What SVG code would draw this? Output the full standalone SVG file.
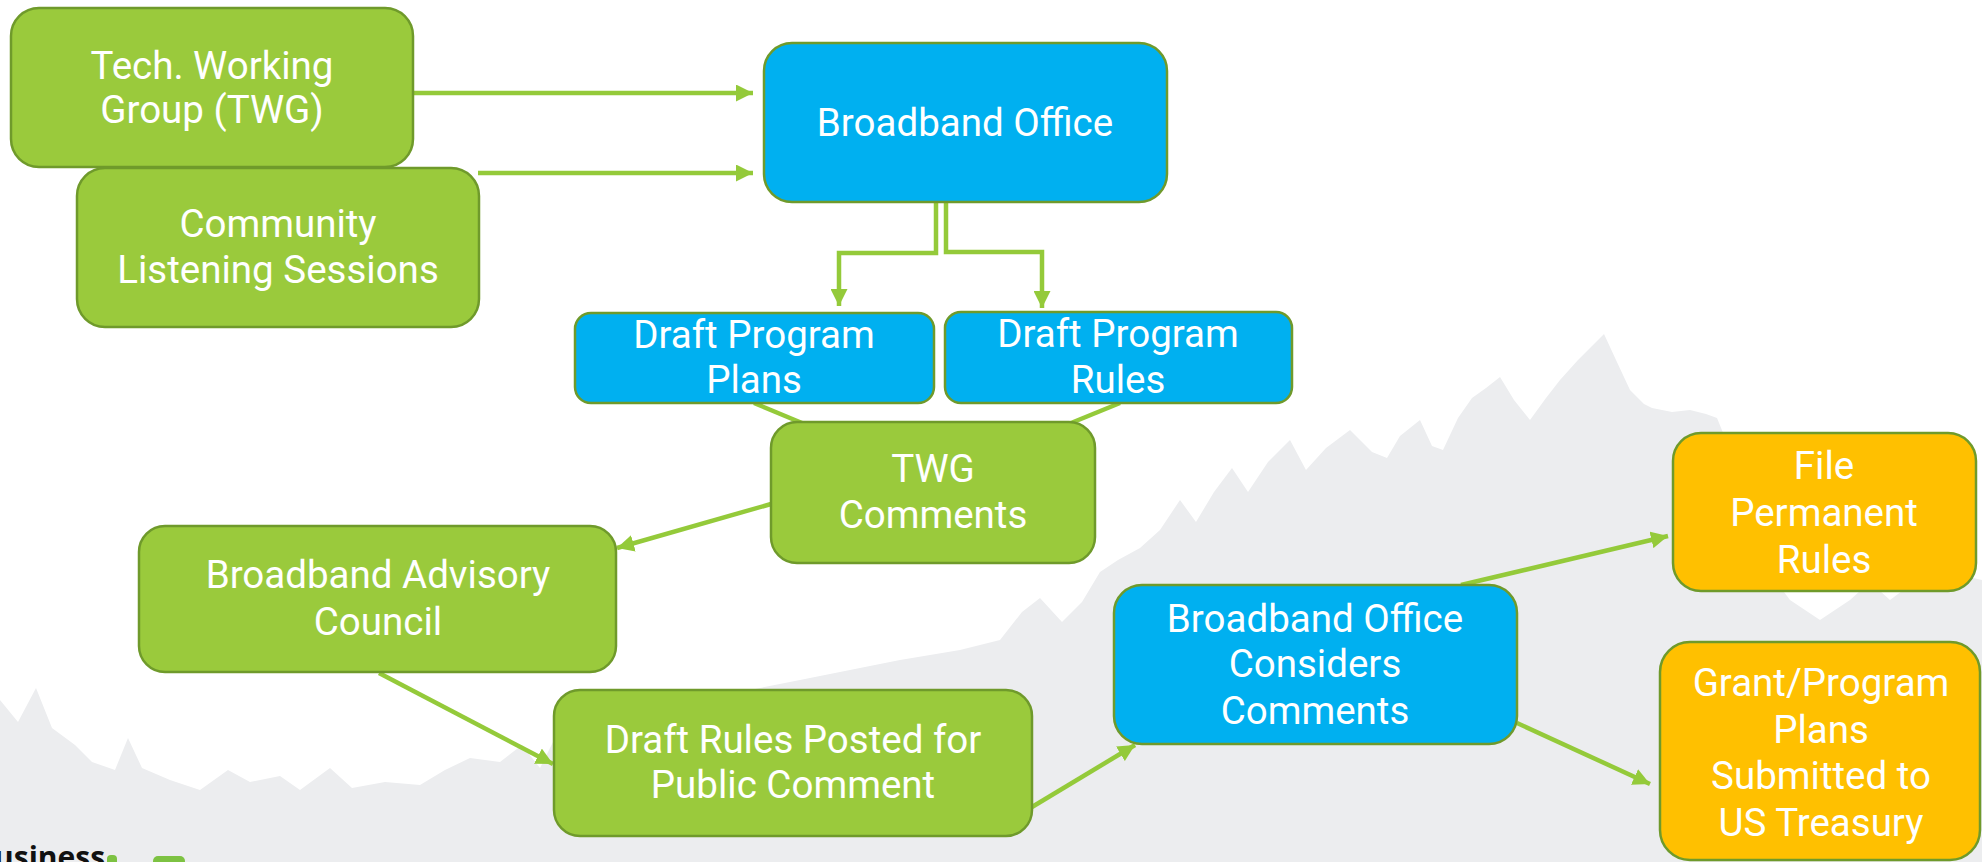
<svg xmlns="http://www.w3.org/2000/svg" width="1982" height="862" viewBox="0 0 1982 862">
<defs>
<style>
.bg{fill:#ffffff}
.tree{fill:#ECEDEF}
.box rect{stroke:#6F9A2B;stroke-width:2.5}
.g rect{fill:#9ACA3C}
.b rect{fill:#00B0F0}
.y rect{fill:#FFC000}
.box text{font-family:Roboto,"Liberation Sans",sans-serif;font-size:38.5px;fill:#ffffff;text-anchor:middle}
.conn{stroke:#94CA3A;stroke-width:4.5;fill:none}
.logo{font-family:"Open Sans","Liberation Sans",sans-serif;font-weight:bold;font-size:30px;fill:#111}
</style>
<marker id="ah" markerUnits="userSpaceOnUse" markerWidth="17" markerHeight="17" refX="15" refY="7.5" orient="auto" viewBox="0 0 15 15">
<path d="M0,0 L15,7.5 L0,15 z" fill="#94CA3A"/>
</marker>
</defs>
<rect class="bg" x="0" y="0" width="1982" height="862"/>
<path class="tree" d="M0,700 L18,722 L36,688 L52,728 L75,745 L92,762 L115,770 L128,738 L142,768 L170,780 L200,790 L228,770 L250,782 L280,776 L300,790 L330,768 L352,788 L385,782 L420,785 L445,770 L470,758 L500,762 L522,745 L540,768 L556,736 L600,720 L700,700 L800,680 L900,660 L960,650 L1000,640 L1022,612 L1040,598 L1062,622 L1082,602 L1100,572 L1118,560 L1140,548 L1160,530 L1180,500 L1196,522 L1214,492 L1232,468 L1248,492 L1268,462 L1290,440 L1306,470 L1326,448 L1350,430 L1372,452 L1387,458 L1400,436 L1420,420 L1432,446 L1443,450 L1458,418 L1472,398 L1486,388 L1500,377 L1514,400 L1530,420 L1546,398 L1560,380 L1578,360 L1592,346 L1604,334 L1616,360 L1630,390 L1644,404 L1652,408 L1672,412 L1690,410 L1706,414 L1717,418 L1730,450 L1745,500 L1760,560 L1790,600 L1820,620 L1850,600 L1870,582 L1890,600 L1910,585 L1940,560 L1960,575 L1982,580 L1982,862 L0,862 Z"/>
<g id="connectors">
<line class="conn" x1="414" y1="93" x2="753" y2="93" marker-end="url(#ah)"/>
<line class="conn" x1="478" y1="173" x2="753" y2="173" marker-end="url(#ah)"/>
<polyline class="conn" points="936,202 936,253 839,253 839,306" marker-end="url(#ah)"/>
<polyline class="conn" points="946,202 946,252 1042,252 1042,308" marker-end="url(#ah)"/>
<line class="conn" x1="754" y1="403" x2="802" y2="423"/>
<line class="conn" x1="1120" y1="403" x2="1071" y2="423"/>
<line class="conn" x1="771" y1="504" x2="617" y2="548" marker-end="url(#ah)"/>
<line class="conn" x1="379" y1="673" x2="553" y2="764" marker-end="url(#ah)"/>
<line class="conn" x1="1032" y1="807" x2="1135" y2="745" marker-end="url(#ah)"/>
<line class="conn" x1="1461" y1="585" x2="1668" y2="536" marker-end="url(#ah)"/>
<line class="conn" x1="1517" y1="723" x2="1650" y2="784" marker-end="url(#ah)"/>
</g>
<g id="tech-working-group" class="box g">
<rect x="11" y="8" width="402" height="159" rx="28"/>
<text x="212" y="79">Tech. Working</text>
<text x="212" y="123">Group (TWG)</text>
</g>
<g id="community-listening" class="box g">
<rect x="77" y="168" width="402" height="159" rx="28"/>
<text x="278" y="237">Community</text>
<text x="278" y="283">Listening Sessions</text>
</g>
<g id="broadband-office" class="box b">
<rect x="764" y="43" width="403" height="159" rx="28"/>
<text x="965" y="136">Broadband Office</text>
</g>
<g id="draft-program-plans" class="box b">
<rect x="575" y="313" width="359" height="90" rx="16"/>
<text x="754" y="348">Draft Program</text>
<text x="754" y="393">Plans</text>
</g>
<g id="draft-program-rules" class="box b">
<rect x="945" y="312" width="347" height="91" rx="16"/>
<text x="1118" y="347">Draft Program</text>
<text x="1118" y="393">Rules</text>
</g>
<g id="twg-comments" class="box g">
<rect x="771" y="422" width="324" height="141" rx="26"/>
<text x="933" y="482">TWG</text>
<text x="933" y="528">Comments</text>
</g>
<g id="advisory-council" class="box g">
<rect x="139" y="526" width="477" height="146" rx="26"/>
<text x="378" y="588">Broadband Advisory</text>
<text x="378" y="635">Council</text>
</g>
<g id="draft-rules-posted" class="box g">
<rect x="554" y="690" width="478" height="146" rx="26"/>
<text x="793" y="753">Draft Rules Posted for</text>
<text x="793" y="798">Public Comment</text>
</g>
<g id="office-considers" class="box b">
<rect x="1114" y="585" width="403" height="159" rx="28"/>
<text x="1315" y="632">Broadband Office</text>
<text x="1315" y="677">Considers</text>
<text x="1315" y="724">Comments</text>
</g>
<g id="file-permanent-rules" class="box y">
<rect x="1673" y="433" width="303" height="158" rx="28"/>
<text x="1824" y="479">File</text>
<text x="1824" y="526">Permanent</text>
<text x="1824" y="573">Rules</text>
</g>
<g id="grant-program-plans" class="box y">
<rect x="1660" y="642" width="320" height="218" rx="30"/>
<text x="1821" y="696">Grant/Program</text>
<text x="1821" y="743">Plans</text>
<text x="1821" y="789">Submitted to</text>
<text x="1821" y="836">US Treasury</text>
</g>
<g id="logo">
<text class="logo" x="-6" y="868">usiness</text>
<rect x="107" y="855" width="10" height="10" rx="4" fill="#7DC242"/>
<rect x="153" y="856" width="32" height="10" rx="5" fill="#7DC242"/>
</g>
</svg>
